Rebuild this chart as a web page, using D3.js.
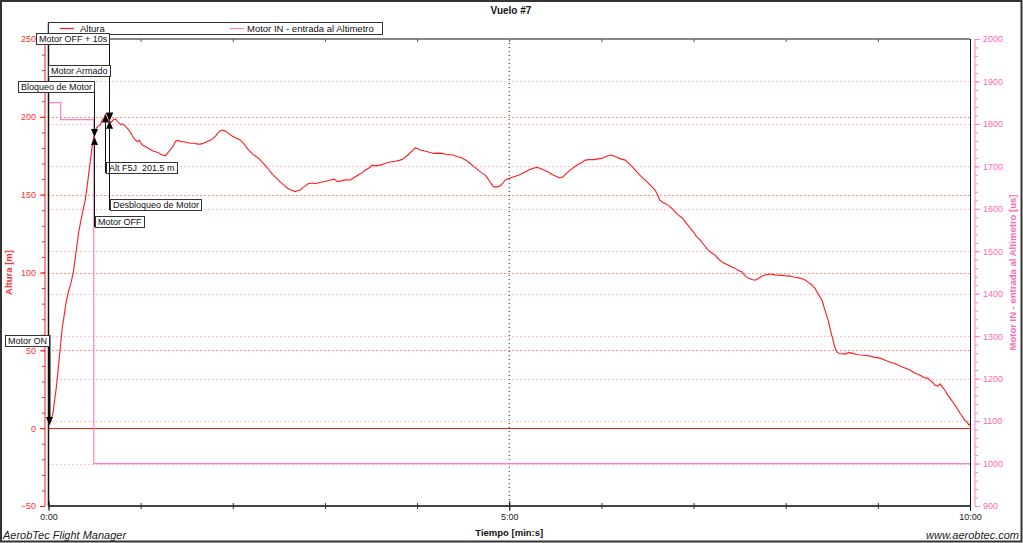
<!DOCTYPE html>
<html><head><meta charset="utf-8">
<script src="https://cdn.jsdelivr.net/npm/d3@7/dist/d3.min.js"></script>
<style>
html,body{margin:0;padding:0;background:#fff;}
svg{display:block;font-family:"Liberation Sans",Arial,sans-serif;}
text{white-space:pre;}
</style></head>
<body>
<svg id="chart" width="1023" height="543"></svg>
<script>
// ---------- DATA ----------
const chartTitle = "Vuelo #7";
const seriesNames = ["Altura", "Motor IN - entrada al Altimetro"];
const altTime = [0.6,1.5,3,4,5.2,6.5,7.5,8.3,9,10,11,11.7,13,14.3,15.5,16.3,17.5,18.5,19.5,21,22.5,24,25.5,27.3,28.5,29.5,30.5,31.2,32.5,33.8,35,36,37,38,39,40,41,42,43.6,45,46.9,48,50,52,53.4,55,56.6,58,59,61,63,66.4,68,71.6,73,76,77,79.4,81,82.6,84,86,88,90,92.4,95,97,99,101,103,105.4,107,109,110.6,112,113,115,117,119,121.7,123,125,127,130,133,136.7,139,141,143.5,145.8,148,151,153.5,156,158,160.7,162,164,165.5,167,169,171.8,174,177,180,183.5,186,188,190,193,196.5,199,201.7,204,206.3,208.5,210.8,213,216,219,222.5,226,229,231,234,236.5,238.8,240.5,242,245,247.3,251,255,259,263,266,269.4,272,274.6,277,279.8,282,284.4,286,287.6,289,290,292,294,296,297.4,299,300.6,303,306,308,310.4,313,315.6,318,320,322,325.4,328,330,333,335,337,339.7,342,344.2,347,349.5,352,355,358,361,363,365.7,368,370,372.5,375.5,378,380,382,385,388.5,391,393,395,397,398,400,403.5,406,408,410,412.6,415,417.8,420,422,424.3,427,429.5,432,434,436,438.6,440,442.5,445,447,449,451.6,453,455.5,458,460,462,464.6,467,469.8,473,476.3,479,482.8,486,489.4,492,494.6,497,499,501,503.7,505.5,507.6,509,510.8,512,513.4,515,518.6,521,523.2,526,528.4,531,535,538,541.4,544,548,551,554.4,558,561,564,567.5,570,572.6,575,577.2,579,580.5,582,583.7,585,587,589,590.2,592,593.5,595,596.7,598,599.3,600];
const altMeters = [2,5,10,18,27,40,50,58,65,71,78,82,88,92,97,101,110,117,125,133,140,147,158,172,182,187,191,193,194,195,198,199,201.5,199,198,197,196.5,198,198.6,197,195,195.5,194,192,190,187,185,184,185,182,181,179,178,177,176,175,176,179,181,184,185,184,184,183.5,183,183,182.5,182.5,183,184,185,186,188,190,191,191.5,191,189.5,188,186.5,186,185,183,179,176,173.5,171,169,166,163,161,158,156,154,153,152,152.5,153,154.5,155.5,157,157.5,157,158,158.5,159.4,160,158.5,158.7,159.5,159.4,161,162.6,164,165.8,167,169,168.5,169,170,171,171.5,172.2,173,175.5,178,180,179.5,178.7,178,177.4,176.5,176.7,176,175.5,174.5,173.5,172,170,168,165.8,164,162.6,160.5,158,156,155,155,155.6,157.5,159.4,160.2,160.7,161.5,162.5,163.5,164.5,166,167,167.5,167,166,164.5,163,162,160.7,161.5,163.5,165.8,167.5,169,170.5,172.2,172.5,172.5,173,173.5,174.5,175.5,175,174,173,172.2,170,168,165.8,162.5,159.4,157,155,153,149,146.5,145,143.3,141,139,137,135,132,128.5,126,123,120.8,117.5,114.4,112.5,111.2,109,106.7,106,104.8,103.5,102.8,101.5,100.3,98.5,96.4,95.5,95,96,97.7,98.5,99,98.5,98.3,98,97.7,97,96.4,95.5,93.8,92,90,86.5,82,76,69.4,63.5,56.6,52,48.8,48,47.6,48.5,48.2,47.3,47,46.8,46.3,45.5,45,44,42.4,41.5,40,38.5,37.3,35.5,34,32.5,32,30,27.6,27,28.5,26.5,24.4,22,19.3,16.5,14.8,12,9.6,7.5,5,4,2,3];
const motorTime = [0, 7.9, 29.5, 600];
const motorUs = [1850, 1810, 1000, 1000];
const altTicks = [-50, 0, 50, 100, 150, 200, 250];
const usTicks = [900, 1000, 1100, 1200, 1300, 1400, 1500, 1600, 1700, 1800, 1900, 2000];
const timeTicks = [0, 300, 600];
const timeTickLabels = ["0:00", "5:00", "10:00"];
const eventLabels = ["Motor ON", "Bloqueo de Motor", "Motor OFF", "Alt F5J  201.5 m", "Motor OFF + 10s", "Motor Armado", "Desbloqueo de Motor"];
const eventTimes = [0.6, 29.5, 29.5, 37, 39.5, 39.5, 39.5];
const eventFromAbove = [true, true, false, false, true, true, false];

// ---------- LAYOUT ----------
const W = 1023, H = 543;
const L = 48.5, R = 970, T = 39, B = 506;
const RED = "#ff1a1a", PINK = "#ff7fbf", REDTXT = "#ff3030", PINKTXT = "#ff66b3";
const boxTops = [335, 81, 216, 162, 33, 65, 199];
const boxOnLeft = [true, true, false, false, true, true, false];

const svg = d3.select("#chart");
const x = d3.scaleLinear().domain([0, 600]).range([L, R]);
const yL = d3.scaleLinear().domain([-50, 250]).range([B, T]);
const yR = d3.scaleLinear().domain([900, 2000]).range([B, T]);

svg.append("rect").attr("x", 0).attr("y", 0).attr("width", W).attr("height", H).attr("fill", "#fff");
svg.append("rect").attr("x", 1).attr("y", 1).attr("width", W - 2.5).attr("height", H - 2.5)
  .attr("fill", "none").attr("stroke", "#333").attr("stroke-width", 2);

// grid
const g = svg.append("g");
usTicks.filter(v => v > 900 && v < 2000).forEach(v => {
  g.append("line").attr("x1", L).attr("x2", R).attr("y1", Math.round(yR(v)) + 0.5).attr("y2", Math.round(yR(v)) + 0.5)
    .attr("stroke", PINK).attr("stroke-dasharray", "1,3");
});
altTicks.filter(v => v > -50 && v < 250 && v !== 0).forEach(v => {
  g.append("line").attr("x1", L).attr("x2", R).attr("y1", Math.round(yL(v)) + 0.5).attr("y2", Math.round(yL(v)) + 0.5)
    .attr("stroke", RED).attr("stroke-dasharray", "1,3");
});
g.append("line").attr("x1", x(300)).attr("x2", x(300)).attr("y1", T).attr("y2", B)
  .attr("stroke", "#222").attr("stroke-dasharray", "1,3");
g.append("line").attr("x1", L).attr("x2", R).attr("y1", Math.round(yL(0)) + 0.5).attr("y2", Math.round(yL(0)) + 0.5)
  .attr("stroke", RED).attr("stroke-width", 1.2);

// series
const motorData = motorTime.map((t, i) => [t, motorUs[i]]);
svg.append("path").datum(motorData)
  .attr("d", d3.line().x(d => x(d[0])).y(d => yR(d[1])).curve(d3.curveStepAfter))
  .attr("fill", "none").attr("stroke", PINK).attr("stroke-width", 1.2);
const altData = altTime.map((t, i) => [t, altMeters[i]]);
svg.append("path").datum(altData)
  .attr("d", d3.line().x(d => x(d[0])).y(d => yL(d[1])))
  .attr("fill", "none").attr("stroke", RED).attr("stroke-width", 1.1);

// left axis
const la = svg.append("g").attr("transform", `translate(45,0)`)
  .call(d3.axisLeft(yL).tickValues(d3.range(-50, 251, 10)).tickSize(3).tickFormat(""));
la.selectAll("path,line").attr("stroke", RED);
la.select(".domain").attr("d", `M0,${T}V${B}`);
const la2 = svg.append("g").attr("transform", `translate(45,0)`)
  .call(d3.axisLeft(yL).tickValues(altTicks).tickSize(5).tickPadding(4).tickFormat(d3.format("d")));
la2.select(".domain").remove();
la2.selectAll("line").attr("stroke", RED);
la2.selectAll("text").attr("fill", REDTXT).style("font-size", "9px").style("font-family", "Liberation Sans, Arial, sans-serif");

// right axis
const ra = svg.append("g").attr("transform", `translate(975,0)`)
  .call(d3.axisRight(yR).tickValues(d3.range(900, 2001, 20)).tickSize(3).tickFormat(""));
ra.selectAll("path,line").attr("stroke", PINK);
ra.select(".domain").attr("d", `M0,${T}V${B}`);
const ra2 = svg.append("g").attr("transform", `translate(975,0)`)
  .call(d3.axisRight(yR).tickValues(usTicks).tickSize(5).tickPadding(3).tickFormat(d3.format("d")));
ra2.select(".domain").remove();
ra2.selectAll("line").attr("stroke", PINK);
ra2.selectAll("text").attr("fill", PINKTXT).style("font-size", "9px").style("font-family", "Liberation Sans, Arial, sans-serif");

// bottom time axis
const ba = svg.append("g").attr("transform", `translate(0,${B})`)
  .call(d3.axisBottom(x).tickValues(d3.range(0, 601, 60)).tickSize(3).tickFormat(""));
ba.select(".domain").attr("d", `M${L},0H${R}`).attr("stroke", "#444").attr("stroke-width", 2);
ba.selectAll(".tick line").attr("y1", -3).attr("stroke", "#333");
const ba2 = svg.append("g").attr("transform", `translate(0,${B})`)
  .call(d3.axisBottom(x).tickValues(timeTicks).tickSize(5).tickPadding(3).tickFormat((d, i) => timeTickLabels[i]));
ba2.select(".domain").remove();
ba2.selectAll(".tick line").attr("y1", -5).attr("stroke", "#222");
ba2.selectAll("text").attr("fill", "#222").style("font-size", "9px").style("font-family", "Liberation Sans, Arial, sans-serif");

// top mirror axis
const ta = svg.append("g").attr("transform", `translate(0,${T})`)
  .call(d3.axisTop(x).tickValues(d3.range(60, 600, 60)).tickSize(-3).tickFormat(""));
ta.select(".domain").attr("d", `M${L},0H${R}`).attr("stroke", "#888").attr("stroke-width", 2);
ta.selectAll(".tick line").attr("stroke", "#555");

// frame lines
svg.append("line").attr("x1", R + 0.5).attr("x2", R + 0.5).attr("y1", T).attr("y2", B).attr("stroke", "#111");
svg.append("line").attr("x1", L).attr("x2", L).attr("y1", 22.5).attr("y2", B).attr("stroke", "#111").attr("stroke-width", 1.5);

// legend
const lg = svg.append("g");
lg.append("rect").attr("x", L).attr("y", 22.5).attr("width", 334).attr("height", 12)
  .attr("fill", "#fff").attr("stroke", "#333");
lg.append("line").attr("x1", 60).attr("x2", 74).attr("y1", 28.5).attr("y2", 28.5).attr("stroke", RED).attr("stroke-width", 1.2);
lg.append("text").attr("x", 80).attr("y", 32).text(seriesNames[0]).style("font-size", "9.5px").attr("fill", "#111");
lg.append("line").attr("x1", 230).attr("x2", 244).attr("y1", 28.5).attr("y2", 28.5).attr("stroke", PINK).attr("stroke-width", 1.2);
lg.append("text").attr("x", 247).attr("y", 32).text(seriesNames[1]).style("font-size", "9.5px").attr("fill", "#111");

// title
svg.append("text").attr("x", 511).attr("y", 14).attr("text-anchor", "middle")
  .style("font-size", "10px").style("font-weight", "bold").attr("fill", "#111").text(chartTitle);

// axis titles
svg.append("text").attr("transform", `translate(12,${(T + B) / 2}) rotate(-90)`).attr("text-anchor", "middle")
  .style("font-size", "9.5px").style("font-weight", "bold").attr("fill", REDTXT).text("Altura [m]");
svg.append("text").attr("transform", `translate(1016,${(T + B) / 2}) rotate(-90)`).attr("text-anchor", "middle")
  .style("font-size", "9.5px").style("font-weight", "bold").attr("fill", PINKTXT).text("Motor IN - entrada al Altimetro [us]");
svg.append("text").attr("x", x(300)).attr("y", 536).attr("text-anchor", "middle")
  .style("font-size", "9.5px").style("font-weight", "bold").attr("fill", "#111").text("Tiempo [min:s]");

// footer
svg.append("text").attr("x", 3).attr("y", 539).style("font-size", "11px").style("font-style", "italic")
  .attr("fill", "#222").text("AerobTec Flight Manager");
svg.append("text").attr("x", 1019).attr("y", 539).attr("text-anchor", "end").style("font-size", "11px").style("font-style", "italic")
  .attr("fill", "#222").text("www.aerobtec.com");

// annotations
const altAt = t => {
  const i = d3.bisector(d => d).left(altTime, t);
  if (i <= 0) return altMeters[0];
  if (i >= altTime.length) return altMeters[altMeters.length - 1];
  const t0 = altTime[i - 1], t1 = altTime[i];
  return altMeters[i - 1] + (altMeters[i] - altMeters[i - 1]) * (t - t0) / (t1 - t0);
};
const an = svg.append("g");
eventLabels.forEach((lab, i) => {
  const ex = Math.round(x(eventTimes[i])) + 0.5;
  const ey = yL(altAt(eventTimes[i]));
  const above = eventFromAbove[i];
  const top = boxTops[i], bh = 11;
  const tmp = an.append("text").style("font-size", "9px").text(lab);
  const tw = tmp.node().getComputedTextLength();
  tmp.remove();
  const bw = tw + 5;
  const bx = boxOnLeft[i] ? ex - bw : ex;
  const ah = 8, aw = 3.5;
  if (above) {
    an.append("line").attr("x1", ex).attr("x2", ex).attr("y1", top).attr("y2", ey - ah)
      .attr("stroke", "#111").attr("stroke-width", i === 0 ? 2 : 1);
    an.append("path").attr("d", `M${ex - aw},${ey - ah}L${ex + aw},${ey - ah}L${ex},${ey}Z`).attr("fill", "#000");
  } else {
    an.append("line").attr("x1", ex).attr("x2", ex).attr("y1", ey + ah).attr("y2", top + bh)
      .attr("stroke", "#111");
    an.append("path").attr("d", `M${ex - aw},${ey + ah}L${ex + aw},${ey + ah}L${ex},${ey}Z`).attr("fill", "#000");
  }
  an.append("rect").attr("x", Math.round(bx) + 0.5).attr("y", top + 0.5).attr("width", Math.round(bw)).attr("height", bh)
    .attr("fill", "#fff").attr("stroke", "#333");
  an.append("text").attr("x", Math.round(bx) + 3).attr("y", top + 9).style("font-size", "9px").attr("fill", "#111").text(lab);
});
</script>
</body></html>
